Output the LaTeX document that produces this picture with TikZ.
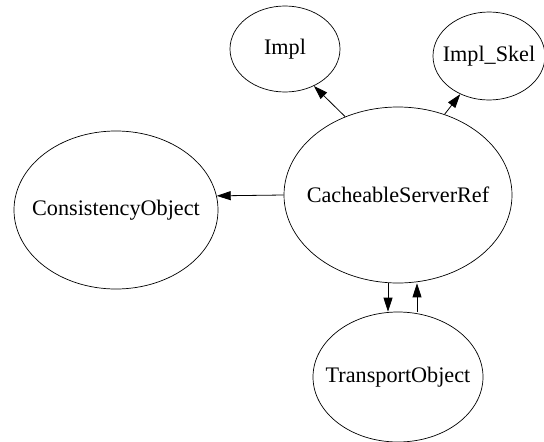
\documentclass[tikz,border=0pt]{standalone}
\usepackage{fontspec}
\setmainfont{Liberation Serif}
\usepackage{tikz}
\usetikzlibrary{shapes.geometric, positioning, arrows.meta}

% label of zero width, so the ellipse keeps its given size
\newcommand{\cname}[1]{\makebox[0pt]{#1}}

\begin{document}
\begin{tikzpicture}[x=1pt, y=1pt, on grid, >={Triangle[length=14pt,width=9pt]}]
        \tikzset{cls/.style={ellipse, draw, line width=0.7pt, inner sep=0pt,
                font=\fontsize{22.2}{26}\selectfont}}
        % Fix the page to the size of the reference
        \useasboundingbox (0,0) rectangle (544,-442);

        \node[cls, minimum width=228pt, minimum height=176pt] (csr) at (398,-195) {\cname{CacheableServerRef}};
        \node[cls, minimum width=170pt, minimum height=130pt] (to) [below=182pt of csr] {\cname{TransportObject}};
        \node[cls, minimum width=204pt, minimum height=158pt] (co) [left=282pt of csr, yshift=-15pt] {\cname{ConsistencyObject}};
        \node[cls, minimum width=110pt, minimum height=86pt] (impl) [above left=146pt and 113pt of csr] {\cname{Impl}};
        \node[cls, minimum width=112pt, minimum height=88pt] (skel) [above right=139pt and 91pt of csr] {\cname{Impl\_Skel}};

        \path[->, line width=0.8pt]
        (csr.124) edge (impl.-52)
        (csr.60) edge (skel.233)
        (csr.180) edge (co.8.5)
        ([xshift=-10pt]csr.south) edge ([xshift=-10pt]to.north)
        ([xshift=19pt]to.north) edge ([xshift=19pt]csr.south);
    \end{tikzpicture}
\end{document}
